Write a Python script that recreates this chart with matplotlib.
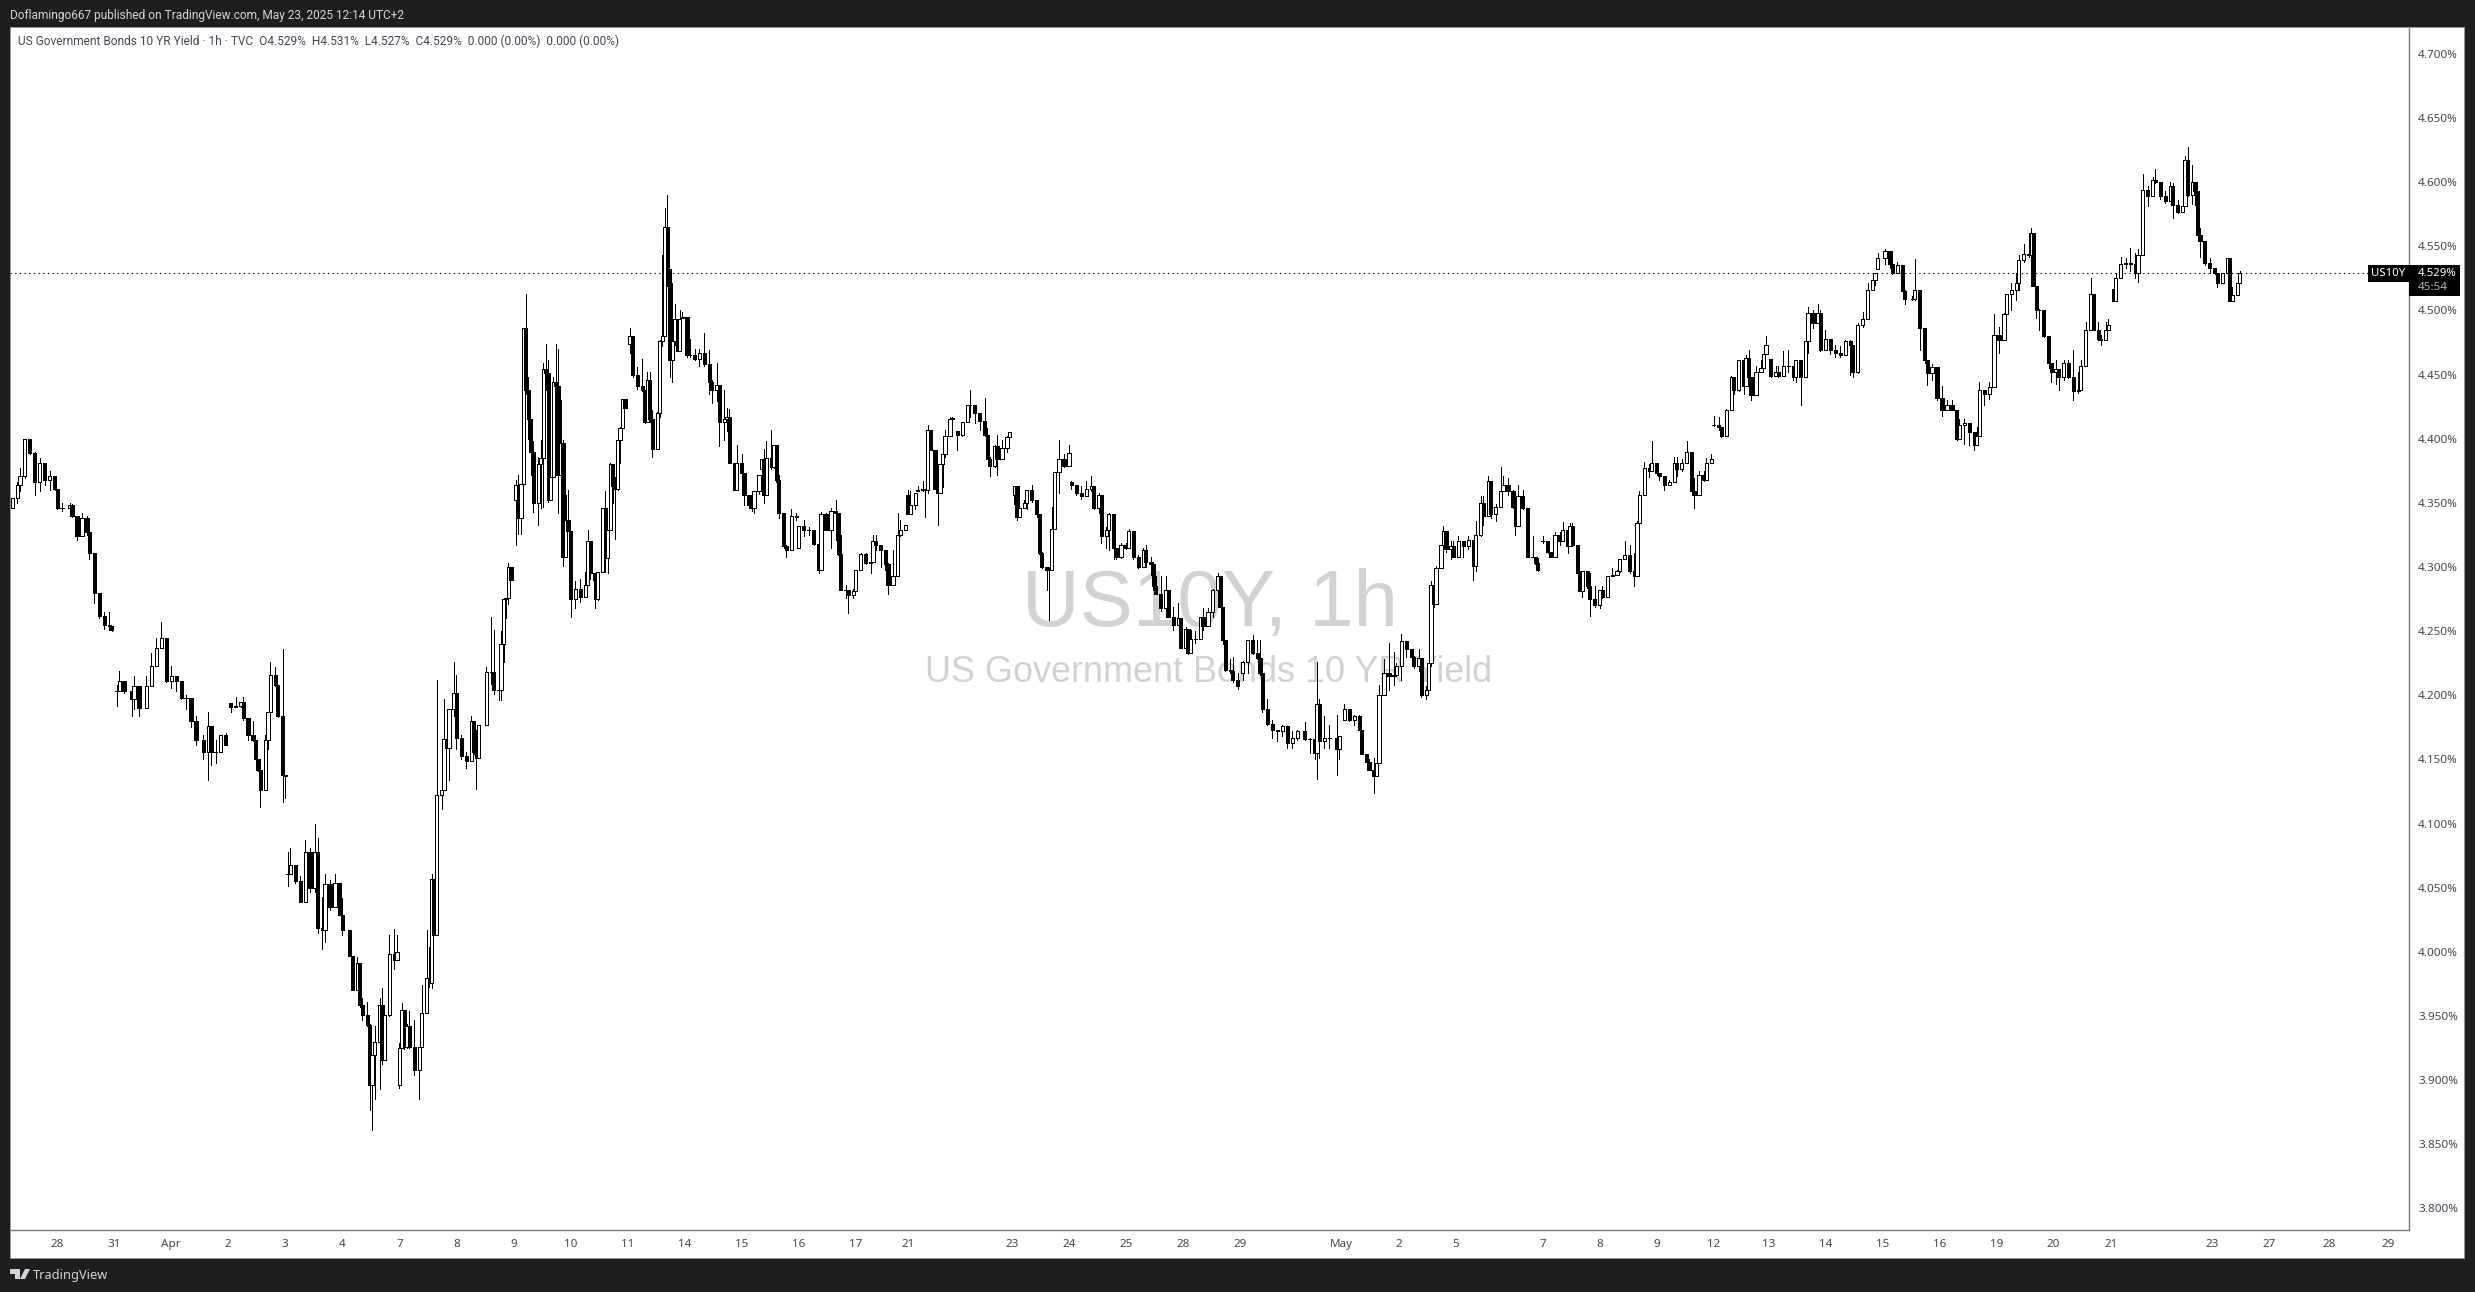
import matplotlib
matplotlib.use("Agg")
import matplotlib.pyplot as plt
from matplotlib.patches import Rectangle, Polygon

# hourly bar number of each candle, close, high, low
bars_a = [1,3,4,6,8,10,12,14,16,18,19,21,24,25,27,29,31,32,34,36,38,40,41,
          43,44,46,49,50,52,55,57,59,61,63,65,67,69,71,73,75,78,80,81,83,85,87,
          89,91,93,94,96,98,99,100,101,103,104,105,107,108,110,111]
close_a = [4.354,4.364,4.371,4.400,4.389,4.366,4.381,4.368,4.371,4.361,4.346,4.346,4.348,4.340,4.324,4.338,4.327,4.311,4.280,4.262,4.255,4.254,4.251,
           4.203,4.211,4.203,4.197,4.207,4.190,4.207,4.223,4.237,4.245,4.211,4.215,4.211,4.198,4.198,4.180,4.165,4.156,4.176,4.156,4.156,4.169,4.161,
           4.191,4.192,4.195,4.182,4.169,4.165,4.150,4.142,4.126,4.165,4.187,4.216,4.208,4.184,4.138,4.137]
high_a = [4.354,4.366,4.377,4.400,4.399,4.390,4.385,4.379,4.375,4.366,4.360,4.350,4.350,4.349,4.336,4.342,4.340,4.338,4.297,4.276,4.265,4.265,4.254,
          4.208,4.219,4.211,4.204,4.215,4.200,4.215,4.233,4.245,4.257,4.245,4.223,4.214,4.211,4.200,4.197,4.184,4.169,4.187,4.173,4.165,4.169,4.171,
          4.194,4.199,4.195,4.199,4.182,4.180,4.163,4.150,4.142,4.169,4.187,4.226,4.222,4.208,4.236,4.138]
low_a = [4.346,4.350,4.359,4.369,4.388,4.356,4.359,4.364,4.360,4.360,4.345,4.344,4.345,4.339,4.321,4.324,4.325,4.306,4.272,4.260,4.252,4.251,4.250,
         4.192,4.208,4.202,4.184,4.189,4.184,4.191,4.208,4.236,4.238,4.210,4.206,4.203,4.197,4.189,4.175,4.161,4.150,4.134,4.146,4.147,4.156,4.161,
         4.187,4.191,4.191,4.181,4.165,4.164,4.150,4.141,4.113,4.135,4.158,4.185,4.207,4.183,4.117,4.120]

bars_b = [112,113,115,117,119,121,123,124,126,127,129,131,133,134,137,138,140,141,142,144,145,146,147,149,150,151,153,155,156,
          157,158,159,160,161,163,165,166,168,169,170,171,172,174,175,176,177,179,180,182,184,186,187,188,189]
close_b = [4.061,4.068,4.055,4.039,4.078,4.050,4.078,4.019,4.017,4.053,4.035,4.054,4.029,4.017,3.997,3.970,3.991,3.959,3.951,3.943,3.896,3.920,3.930,3.959,3.916,3.951,3.998,3.994,4.000,
           3.925,3.955,3.926,3.942,3.926,3.908,3.926,3.952,3.980,3.976,4.057,4.013,4.122,4.126,4.166,4.159,4.189,4.202,4.167,4.153,4.149,4.180,4.156,4.151,4.177]
high_b = [4.078,4.081,4.067,4.059,4.087,4.081,4.100,4.089,4.043,4.061,4.056,4.061,4.047,4.042,4.013,3.996,3.996,3.991,3.964,3.961,3.944,3.920,3.942,3.964,3.972,3.955,4.013,4.018,4.013,
          3.929,3.960,3.955,3.944,3.954,3.947,3.926,3.974,4.017,4.004,4.061,4.057,4.212,4.155,4.197,4.166,4.189,4.226,4.216,4.169,4.156,4.184,4.180,4.173,4.177]
low_b = [4.051,4.067,4.054,4.039,4.043,4.047,4.047,4.015,4.002,4.008,4.033,4.046,4.029,4.013,3.997,3.970,3.970,3.957,3.947,3.942,3.877,3.861,3.885,3.893,3.913,3.924,3.950,3.987,3.999,
         3.894,3.925,3.924,3.925,3.925,3.904,3.885,3.930,3.957,3.973,3.972,4.013,4.063,4.111,4.142,4.152,4.134,4.184,4.158,4.150,4.143,4.152,4.154,4.127,4.155]

bars_c = [192,194,195,197,198,199,200,201,202,
          204,205,206,207,208,209,210,211,213,214,215,216,217,218,219,220,221,222,223,224,225,226,228,230,232,233,234,235,236,237,239,240,241,242,243,244,245,246,247,248,
          250,251,253,255,256,257,258,259,261,262,263,264,265,266,267,268,269,270,271,273,274,276,278,280,282,283,285,286,288,289,290,292,293,295,
          296,298,299,300,302,303,304,305,307,308,309,310,312,313,315,317,
          318,320,322,324,326,327,329,331,333,334]
close_c = [4.218,4.218,4.204,4.204,4.240,4.275,4.276,4.300,4.290,
           4.364,4.338,4.365,4.486,4.438,4.415,4.390,4.350,4.380,4.385,4.454,4.451,4.352,4.370,4.444,4.441,4.372,4.397,4.308,4.337,4.328,4.275,4.283,4.277,4.286,4.320,4.295,4.295,4.275,4.296,4.346,4.307,4.329,4.380,4.363,4.361,4.399,4.408,4.431,4.424,
           4.480,4.450,4.441,4.438,4.413,4.446,4.415,4.392,4.420,4.476,4.480,4.565,4.532,4.461,4.476,4.493,4.468,4.493,4.495,4.465,4.465,4.462,4.467,4.458,4.444,4.438,4.442,4.413,4.415,4.417,4.381,4.360,4.381,4.373,
           4.356,4.348,4.346,4.359,4.372,4.384,4.356,4.385,4.378,4.395,4.368,4.342,4.316,4.313,4.340,4.339,
           4.332,4.329,4.329,4.318,4.298,4.341,4.329,4.344,4.342,4.310]
high_c = [4.222,4.261,4.251,4.216,4.250,4.275,4.276,4.303,4.300,
          4.368,4.372,4.365,4.486,4.513,4.448,4.415,4.398,4.386,4.399,4.459,4.474,4.461,4.370,4.448,4.474,4.470,4.430,4.399,4.356,4.360,4.321,4.289,4.291,4.296,4.329,4.320,4.295,4.295,4.296,4.346,4.359,4.329,4.381,4.380,4.370,4.402,4.409,4.431,4.431,
          4.486,4.480,4.456,4.462,4.438,4.452,4.452,4.422,4.421,4.477,4.543,4.580,4.590,4.529,4.521,4.505,4.493,4.500,4.499,4.489,4.478,4.470,4.470,4.482,4.469,4.446,4.459,4.434,4.438,4.424,4.423,4.381,4.395,4.388,
          4.372,4.356,4.350,4.359,4.372,4.384,4.392,4.398,4.407,4.395,4.378,4.372,4.338,4.317,4.345,4.342,
          4.332,4.337,4.331,4.329,4.318,4.343,4.342,4.346,4.352,4.337]
low_c = [4.186,4.209,4.201,4.196,4.196,4.226,4.260,4.271,4.290,
         4.317,4.326,4.326,4.366,4.435,4.400,4.372,4.343,4.333,4.346,4.347,4.438,4.351,4.356,4.373,4.430,4.342,4.376,4.301,4.308,4.328,4.261,4.268,4.273,4.283,4.286,4.291,4.290,4.268,4.274,4.299,4.296,4.295,4.331,4.350,4.322,4.360,4.381,4.408,4.424,
         4.467,4.448,4.439,4.437,4.412,4.413,4.413,4.386,4.396,4.417,4.472,4.519,4.519,4.448,4.444,4.473,4.468,4.472,4.495,4.464,4.464,4.461,4.457,4.457,4.435,4.428,4.429,4.394,4.399,4.406,4.381,4.360,4.376,4.373,
         4.348,4.346,4.344,4.342,4.357,4.376,4.350,4.356,4.376,4.377,4.366,4.338,4.315,4.308,4.325,4.337,
         4.315,4.324,4.325,4.317,4.295,4.307,4.329,4.315,4.321,4.309]

bars_d = [335,337,338,340,341,343,345,347,348,349,351,353,354,356,358,359,361,
          362,363,365,366,368,369,370,371,373,374,375,376,377,379,380,
          382,384,386,387,389,391,393,394,395,397,398,400,402,403,
          405,406,407,409,410,412,414,415,416,418,419,420,421,423,425,427,
          428,430,432,434,436,437,439,440,442,443,445,446,448,450,451,453,455,457,458,460,461,462,464,466,467,469,471,472,474,475,476,478,480,481,483,485,487,488]
close_d = [4.282,4.282,4.278,4.281,4.298,4.310,4.303,4.304,4.320,4.317,4.313,4.302,4.286,4.293,4.325,4.329,4.333,
           4.341,4.348,4.358,4.360,4.361,4.360,4.407,4.391,4.361,4.358,4.380,4.388,4.402,4.415,4.416,
           4.403,4.413,4.426,4.426,4.420,4.414,4.403,4.384,4.379,4.394,4.384,4.393,4.401,4.405,
           4.363,4.339,4.346,4.350,4.360,4.352,4.341,4.311,4.300,4.298,4.298,4.330,4.374,4.384,4.379,4.389,
           4.364,4.358,4.355,4.361,4.363,4.346,4.356,4.324,4.329,4.341,4.315,4.308,4.317,4.315,4.328,4.308,4.300,4.313,4.304,4.302,4.285,4.279,4.268,4.282,4.261,4.255,4.260,4.237,4.252,4.233,4.244,4.244,4.261,4.254,4.265,4.282,4.293,4.269]
high_d = [4.325,4.286,4.282,4.283,4.298,4.311,4.311,4.304,4.325,4.325,4.317,4.313,4.303,4.313,4.342,4.337,4.333,
          4.360,4.359,4.358,4.363,4.367,4.361,4.411,4.407,4.388,4.361,4.380,4.388,4.407,4.417,4.417,
          4.406,4.413,4.426,4.438,4.426,4.419,4.432,4.408,4.386,4.395,4.403,4.399,4.402,4.405,
          4.363,4.363,4.352,4.352,4.360,4.364,4.352,4.341,4.312,4.300,4.300,4.347,4.374,4.399,4.388,4.395,
          4.367,4.364,4.363,4.367,4.371,4.363,4.358,4.350,4.331,4.342,4.334,4.313,4.319,4.319,4.330,4.328,4.309,4.315,4.317,4.308,4.304,4.293,4.293,4.293,4.282,4.269,4.272,4.260,4.253,4.252,4.251,4.250,4.261,4.268,4.268,4.283,4.295,4.293]
low_d = [4.282,4.276,4.264,4.276,4.284,4.302,4.302,4.295,4.313,4.313,4.300,4.298,4.279,4.286,4.294,4.324,4.332,
         4.341,4.341,4.345,4.359,4.359,4.339,4.358,4.391,4.361,4.333,4.358,4.362,4.386,4.404,4.415,
         4.391,4.402,4.413,4.417,4.412,4.407,4.402,4.384,4.371,4.378,4.372,4.384,4.390,4.401,
         4.349,4.337,4.339,4.346,4.345,4.351,4.339,4.310,4.299,4.282,4.259,4.298,4.335,4.358,4.378,4.385,
         4.361,4.356,4.353,4.356,4.359,4.345,4.342,4.319,4.315,4.313,4.306,4.306,4.307,4.314,4.320,4.306,4.299,4.300,4.300,4.294,4.282,4.279,4.266,4.261,4.261,4.251,4.259,4.237,4.238,4.232,4.237,4.241,4.251,4.251,4.260,4.261,4.269,4.269]

bars_e = [489,490,492,493,495,
          497,499,501,503,504,505,507,509,511,513,515,517,519,522,524,526,527,528,530,532,535,536,
          538,540,542,544,545,547,548,550,551,552,554,556,558,559,561,563,565,566,568,569,571,572,573,574,575,577,578,579,581,582,584,586,588,590,591,593,594,596,597,599,601,602,604,606,607,608,610,612,614,615,616,
          618,620,621,623,625,626,628,629,630,632,633,634,636,637,639,641,642,644,646,648,649,651,653,655,656,657,659,661,662,664,665,667,669,671,672,674,676,678,679,681,683,684,686]
close_e = [4.243,4.220,4.219,4.212,4.207,
           4.226,4.243,4.233,4.229,4.217,4.189,4.178,4.173,4.172,4.176,4.163,4.167,4.172,4.166,4.166,4.155,4.193,4.164,4.167,4.167,4.158,4.168,
           4.189,4.181,4.184,4.173,4.154,4.148,4.142,4.137,4.147,4.200,4.217,4.215,4.216,4.223,4.242,4.236,4.230,4.223,4.229,4.200,4.204,4.225,4.286,4.271,4.299,4.317,4.328,4.314,4.316,4.308,4.320,4.316,4.321,4.301,4.325,4.350,4.340,4.367,4.341,4.347,4.359,4.364,4.359,4.347,4.332,4.355,4.346,4.308,4.308,4.303,4.298,
           4.320,4.312,4.308,4.325,4.320,4.329,4.316,4.332,4.317,4.295,4.281,4.297,4.285,4.275,4.270,4.282,4.277,4.293,4.294,4.297,4.306,4.309,4.297,4.293,4.334,4.356,4.377,4.375,4.381,4.373,4.371,4.364,4.366,4.381,4.376,4.381,4.390,4.359,4.356,4.372,4.368,4.381,4.384]
high_e = [4.269,4.236,4.228,4.230,4.217,
          4.227,4.243,4.247,4.243,4.243,4.217,4.197,4.181,4.173,4.177,4.173,4.172,4.173,4.179,4.167,4.167,4.226,4.197,4.184,4.177,4.185,4.168,
          4.193,4.189,4.185,4.185,4.173,4.154,4.150,4.151,4.159,4.208,4.228,4.241,4.234,4.225,4.248,4.242,4.236,4.231,4.236,4.219,4.207,4.226,4.289,4.286,4.301,4.317,4.332,4.328,4.320,4.320,4.324,4.320,4.324,4.315,4.336,4.355,4.355,4.371,4.364,4.349,4.378,4.371,4.369,4.360,4.347,4.364,4.360,4.345,4.324,4.308,4.307,
          4.324,4.320,4.312,4.327,4.327,4.335,4.328,4.334,4.334,4.312,4.297,4.297,4.289,4.295,4.285,4.282,4.285,4.293,4.299,4.298,4.306,4.320,4.317,4.311,4.336,4.359,4.382,4.380,4.398,4.381,4.373,4.368,4.368,4.386,4.386,4.384,4.398,4.386,4.369,4.375,4.375,4.385,4.388]
low_e = [4.240,4.219,4.217,4.210,4.205,
         4.212,4.217,4.232,4.228,4.216,4.187,4.177,4.167,4.164,4.168,4.159,4.159,4.165,4.165,4.155,4.150,4.135,4.151,4.159,4.159,4.138,4.150,
         4.181,4.180,4.177,4.173,4.154,4.148,4.142,4.124,4.137,4.147,4.202,4.204,4.208,4.215,4.212,4.230,4.230,4.221,4.219,4.199,4.197,4.207,4.223,4.269,4.274,4.299,4.314,4.312,4.306,4.308,4.316,4.308,4.314,4.290,4.297,4.324,4.333,4.347,4.338,4.336,4.347,4.362,4.356,4.346,4.325,4.332,4.345,4.308,4.308,4.302,4.297,
         4.319,4.311,4.308,4.310,4.317,4.320,4.311,4.316,4.316,4.295,4.281,4.277,4.284,4.262,4.269,4.268,4.276,4.278,4.293,4.294,4.296,4.308,4.295,4.285,4.311,4.332,4.358,4.370,4.380,4.372,4.368,4.360,4.364,4.371,4.371,4.375,4.381,4.359,4.346,4.359,4.367,4.376,4.382]

bars_f = [687,689,690,692,694,695,697,699,700,701,702,704,706,707,708,
          710,712,713,715,717,719,720,722,724,725,727,729,730,732,734,736,738,740,742,743,745,747,749,751,752,
          753,756,758,759,761,763,764,767,768,770,772,773,775,777,779,781,783,785,786,788,790,792,793,794,796,798,800,802,804,805,807,809,810,812,814,815,816,817,818,820,822,823,825,826,828,830,832,834,835,837,839,840,842,843,845,846,
          848,849,851,853,855,857,858,860,862,864,865,867,869,871,872,874,876,877,878,880,881,882,883,885,887,889,890,892,894,895,896,898,899]
close_f = [4.411,4.409,4.402,4.422,4.448,4.438,4.461,4.441,4.463,4.448,4.434,4.452,4.455,4.466,4.473,
           4.449,4.452,4.449,4.457,4.457,4.448,4.461,4.448,4.476,4.498,4.490,4.498,4.469,4.478,4.469,4.467,4.465,4.476,4.473,4.452,4.489,4.493,4.516,4.524,4.529,
           4.541,4.546,4.536,4.529,4.535,4.515,4.509,4.509,4.516,4.486,4.461,4.451,4.456,4.432,4.422,4.426,4.422,4.400,4.411,4.412,4.405,4.395,4.402,4.438,4.435,4.440,4.481,4.477,4.497,4.513,4.516,4.521,4.539,4.544,4.543,4.560,4.519,4.500,4.500,4.480,4.459,4.452,4.454,4.448,4.459,4.448,4.437,4.438,4.457,4.485,4.513,4.485,4.478,4.477,4.485,4.489,
           4.507,4.525,4.536,4.537,4.536,4.529,4.543,4.594,4.589,4.602,4.600,4.589,4.585,4.597,4.582,4.577,4.581,4.617,4.590,4.600,4.593,4.559,4.554,4.537,4.533,4.529,4.521,4.529,4.541,4.507,4.512,4.521,4.529]
high_f = [4.418,4.417,4.408,4.423,4.449,4.446,4.461,4.459,4.465,4.469,4.448,4.457,4.461,4.466,4.480,
          4.462,4.457,4.457,4.468,4.469,4.457,4.461,4.459,4.485,4.503,4.500,4.505,4.500,4.485,4.478,4.473,4.472,4.477,4.477,4.473,4.490,4.499,4.521,4.529,4.529,
          4.545,4.548,4.541,4.537,4.538,4.531,4.516,4.511,4.540,4.513,4.481,4.461,4.458,4.448,4.441,4.430,4.430,4.420,4.415,4.415,4.412,4.405,4.409,4.444,4.438,4.444,4.497,4.487,4.498,4.513,4.521,4.529,4.543,4.552,4.560,4.564,4.560,4.517,4.501,4.494,4.473,4.459,4.461,4.448,4.461,4.461,4.469,4.452,4.461,4.491,4.525,4.509,4.491,4.481,4.491,4.493,
          4.517,4.529,4.542,4.541,4.549,4.545,4.548,4.606,4.597,4.604,4.610,4.600,4.593,4.600,4.599,4.586,4.593,4.620,4.627,4.613,4.600,4.581,4.564,4.554,4.541,4.533,4.525,4.529,4.541,4.541,4.518,4.521,4.531]
low_f = [4.410,4.407,4.401,4.405,4.425,4.435,4.437,4.435,4.441,4.447,4.430,4.438,4.452,4.457,4.469,
         4.448,4.450,4.448,4.452,4.452,4.446,4.444,4.426,4.460,4.467,4.486,4.496,4.468,4.477,4.466,4.464,4.464,4.472,4.450,4.448,4.451,4.487,4.494,4.517,4.520,
         4.532,4.536,4.533,4.528,4.529,4.515,4.505,4.508,4.508,4.469,4.459,4.442,4.446,4.430,4.418,4.424,4.422,4.399,4.402,4.396,4.395,4.391,4.398,4.402,4.426,4.431,4.444,4.467,4.480,4.495,4.500,4.508,4.516,4.538,4.542,4.519,4.519,4.494,4.485,4.479,4.455,4.444,4.443,4.438,4.446,4.447,4.430,4.436,4.452,4.461,4.485,4.485,4.477,4.473,4.477,4.485,
         4.507,4.509,4.526,4.533,4.531,4.525,4.522,4.543,4.581,4.589,4.599,4.587,4.584,4.589,4.572,4.576,4.577,4.582,4.589,4.583,4.582,4.559,4.542,4.535,4.529,4.528,4.518,4.525,4.533,4.507,4.509,4.516,4.528]

# first open of a session (otherwise a candle opens at the previous close)
session_opens = {1: 4.346, 43: 4.203, 89: 4.194, 112: 4.061, 157: 3.896, 204: 4.352, 250: 4.474,
                 271: 4.494, 303: 4.376, 318: 4.315, 362: 4.356, 366: 4.359, 382: 4.406, 405: 4.356,
                 428: 4.366, 497: 4.217, 538: 4.181, 618: 4.320, 687: 4.411, 710: 4.462, 753: 4.532,
                 848: 4.517}

price_ticks = [3.80, 3.85, 3.90, 3.95, 4.00, 4.05, 4.10, 4.15, 4.20, 4.25, 4.30, 4.35, 4.40, 4.45,
               4.50, 4.55, 4.60, 4.65, 4.70]
date_bars = [19, 42, 65, 88, 111, 134, 157, 180, 203, 226, 249, 272, 295, 318, 341, 362, 404, 427, 450,
             473, 496, 537, 560, 583, 618, 641, 664, 687, 709, 732, 755, 778, 801, 824, 847, 888, 911, 935, 959]
date_labels = ["28", "31", "Apr", "2", "3", "4", "7", "8", "9", "10", "11", "14", "15", "16", "17", "21",
               "23", "24", "25", "28", "29", "May", "2", "5", "7", "8", "9", "12", "13", "14", "15", "16",
               "19", "20", "21", "23", "27", "28", "29"]
last_price = 4.529

bars = bars_a + bars_b + bars_c + bars_d + bars_e + bars_f
closes = close_a + close_b + close_c + close_d + close_e + close_f
highs = high_a + high_b + high_c + high_d + high_e + high_f
lows = low_a + low_b + low_c + low_d + low_e + low_f
assert len(bars) == len(closes) == len(highs) == len(lows), (len(bars), len(closes), len(highs), len(lows))

opens = []
for i, b in enumerate(bars):
    opens.append(session_opens.get(b, closes[i - 1] if i else closes[0]))
highs = [max(h, o, c) for h, o, c in zip(highs, opens, closes)]
lows = [min(l, o, c) for l, o, c in zip(lows, opens, closes)]

W, H = 2475, 1292
DARK = "#1e1e1e"
GREY = "#787b86"
TICK = "#434651"
plt.rcParams["font.family"] = ["Noto Sans", "DejaVu Sans"]

fig = plt.figure(figsize=(W / 100, H / 100), dpi=100, facecolor=DARK)


def fx(x):
    return x / W


def fy(y):
    return 1 - y / H


fig.patches.append(Rectangle((fx(10), fy(1258)), fx(2464 - 10), (1258 - 27) / H, transform=fig.transFigure,
                             facecolor="white", edgecolor="#9598a1", linewidth=0.7, zorder=-3))

ax = fig.add_axes([fx(10), fy(1230), fx(2409 - 10), (1230 - 27) / H], facecolor="none")
ax.set_xlim(0, 967.3)
ax.set_ylim(3.8 - (1230 - 1208.5) / 1283, 3.8 + (1208.5 - 27) / 1283)

fig.text(fx(1210), fy(606), "US10Y, 1h", fontsize=57.5, color="#d0d2d6", family="Liberation Sans",
         ha="center", va="center", zorder=-2)
fig.text(fx(1209), fy(672), "US Government Bonds 10 YR Yield", fontsize=25.9, color="#d0d2d6",
         family="Liberation Sans", ha="center", va="center", zorder=-2)

ax.axhline(last_price, color="black", lw=0.8, ls=(0, (1.2, 3)), zorder=1)

ax.vlines(bars, lows, highs, color="black", lw=0.45, zorder=2, antialiased=False)
up = [c >= o for o, c in zip(opens, closes)]
ax.bar(bars, [abs(c - o) for o, c in zip(opens, closes)], bottom=[min(o, c) for o, c in zip(opens, closes)],
       width=1.3, color=["white" if u else "black" for u in up], edgecolor="black", linewidth=0.45,
       zorder=3, antialiased=False)

for s in ["top", "left"]:
    ax.spines[s].set_visible(False)
ax.spines["right"].set_color(GREY)
ax.spines["bottom"].set_color(GREY)
ax.spines["right"].set_linewidth(1.0)
ax.spines["bottom"].set_linewidth(1.0)

ax.yaxis.tick_right()
ax.set_yticks(price_ticks)
ax.set_yticklabels(["%.3f%%" % p for p in price_ticks], fontsize=8.4, color=TICK)
ax.tick_params(axis="y", length=0, pad=6.5)
ax.set_xticks(date_bars)
ax.set_xticklabels(date_labels, fontsize=8.4, color=TICK)
ax.tick_params(axis="x", length=0, pad=6.5)
for lab, t in zip(ax.get_xticklabels(), date_labels):
    if t in ("Apr", "May"):
        lab.set_fontweight("bold")

# price and symbol tags on the right
fig.patches.append(Rectangle((fx(2368), fy(282)), fx(41), 17 / H, transform=fig.transFigure,
                             facecolor="black", edgecolor="none", zorder=5))
fig.patches.append(Rectangle((fx(2409), fy(296)), fx(51), 31 / H, transform=fig.transFigure,
                             facecolor="black", edgecolor="none", zorder=5))
fig.text(fx(2388), fy(273), "US10Y", fontsize=8.2, color="white", fontweight="bold",
         ha="center", va="center", zorder=6)
fig.text(fx(2418), fy(273), "%.3f%%" % last_price, fontsize=8.2, color="white", fontweight="bold",
         ha="left", va="center", zorder=6)
fig.text(fx(2418), fy(288), "45:54", fontsize=8.4, color="#b2b5be", ha="left", va="center", zorder=6)

fig.text(fx(10), fy(15), "Doflamingo667 published on TradingView.com, May 23, 2025 12:14 UTC+2", fontsize=8.55,
         color="#d1d4dc", family="Roboto", ha="left", va="center")
fig.text(fx(18), fy(41), "US Government Bonds 10 YR Yield · 1h · TVC  O4.529%  H4.531%  L4.527%  C4.529%  "
         "0.000 (0.00%)  0.000 (0.00%)", fontsize=8.55, color=TICK, family="Roboto", ha="left", va="center")

# TradingView logo
logo = "#d1d4dc"
fig.patches.append(Polygon([(fx(x), fy(y)) for x, y in [(10, 1269), (20, 1269), (20, 1279), (15, 1279), (15, 1274), (10, 1274)]],
                           transform=fig.transFigure, facecolor=logo, edgecolor="none"))
fig.patches.append(Polygon([(fx(x), fy(y)) for x, y in [(25, 1269), (30, 1269), (25, 1279), (20, 1279)]],
                           transform=fig.transFigure, facecolor=logo, edgecolor="none"))
fig.text(fx(33), fy(1275), "TradingView", fontsize=9.2, color=logo, ha="left", va="center")

fig.savefig("out.png", dpi=100, facecolor=DARK)
